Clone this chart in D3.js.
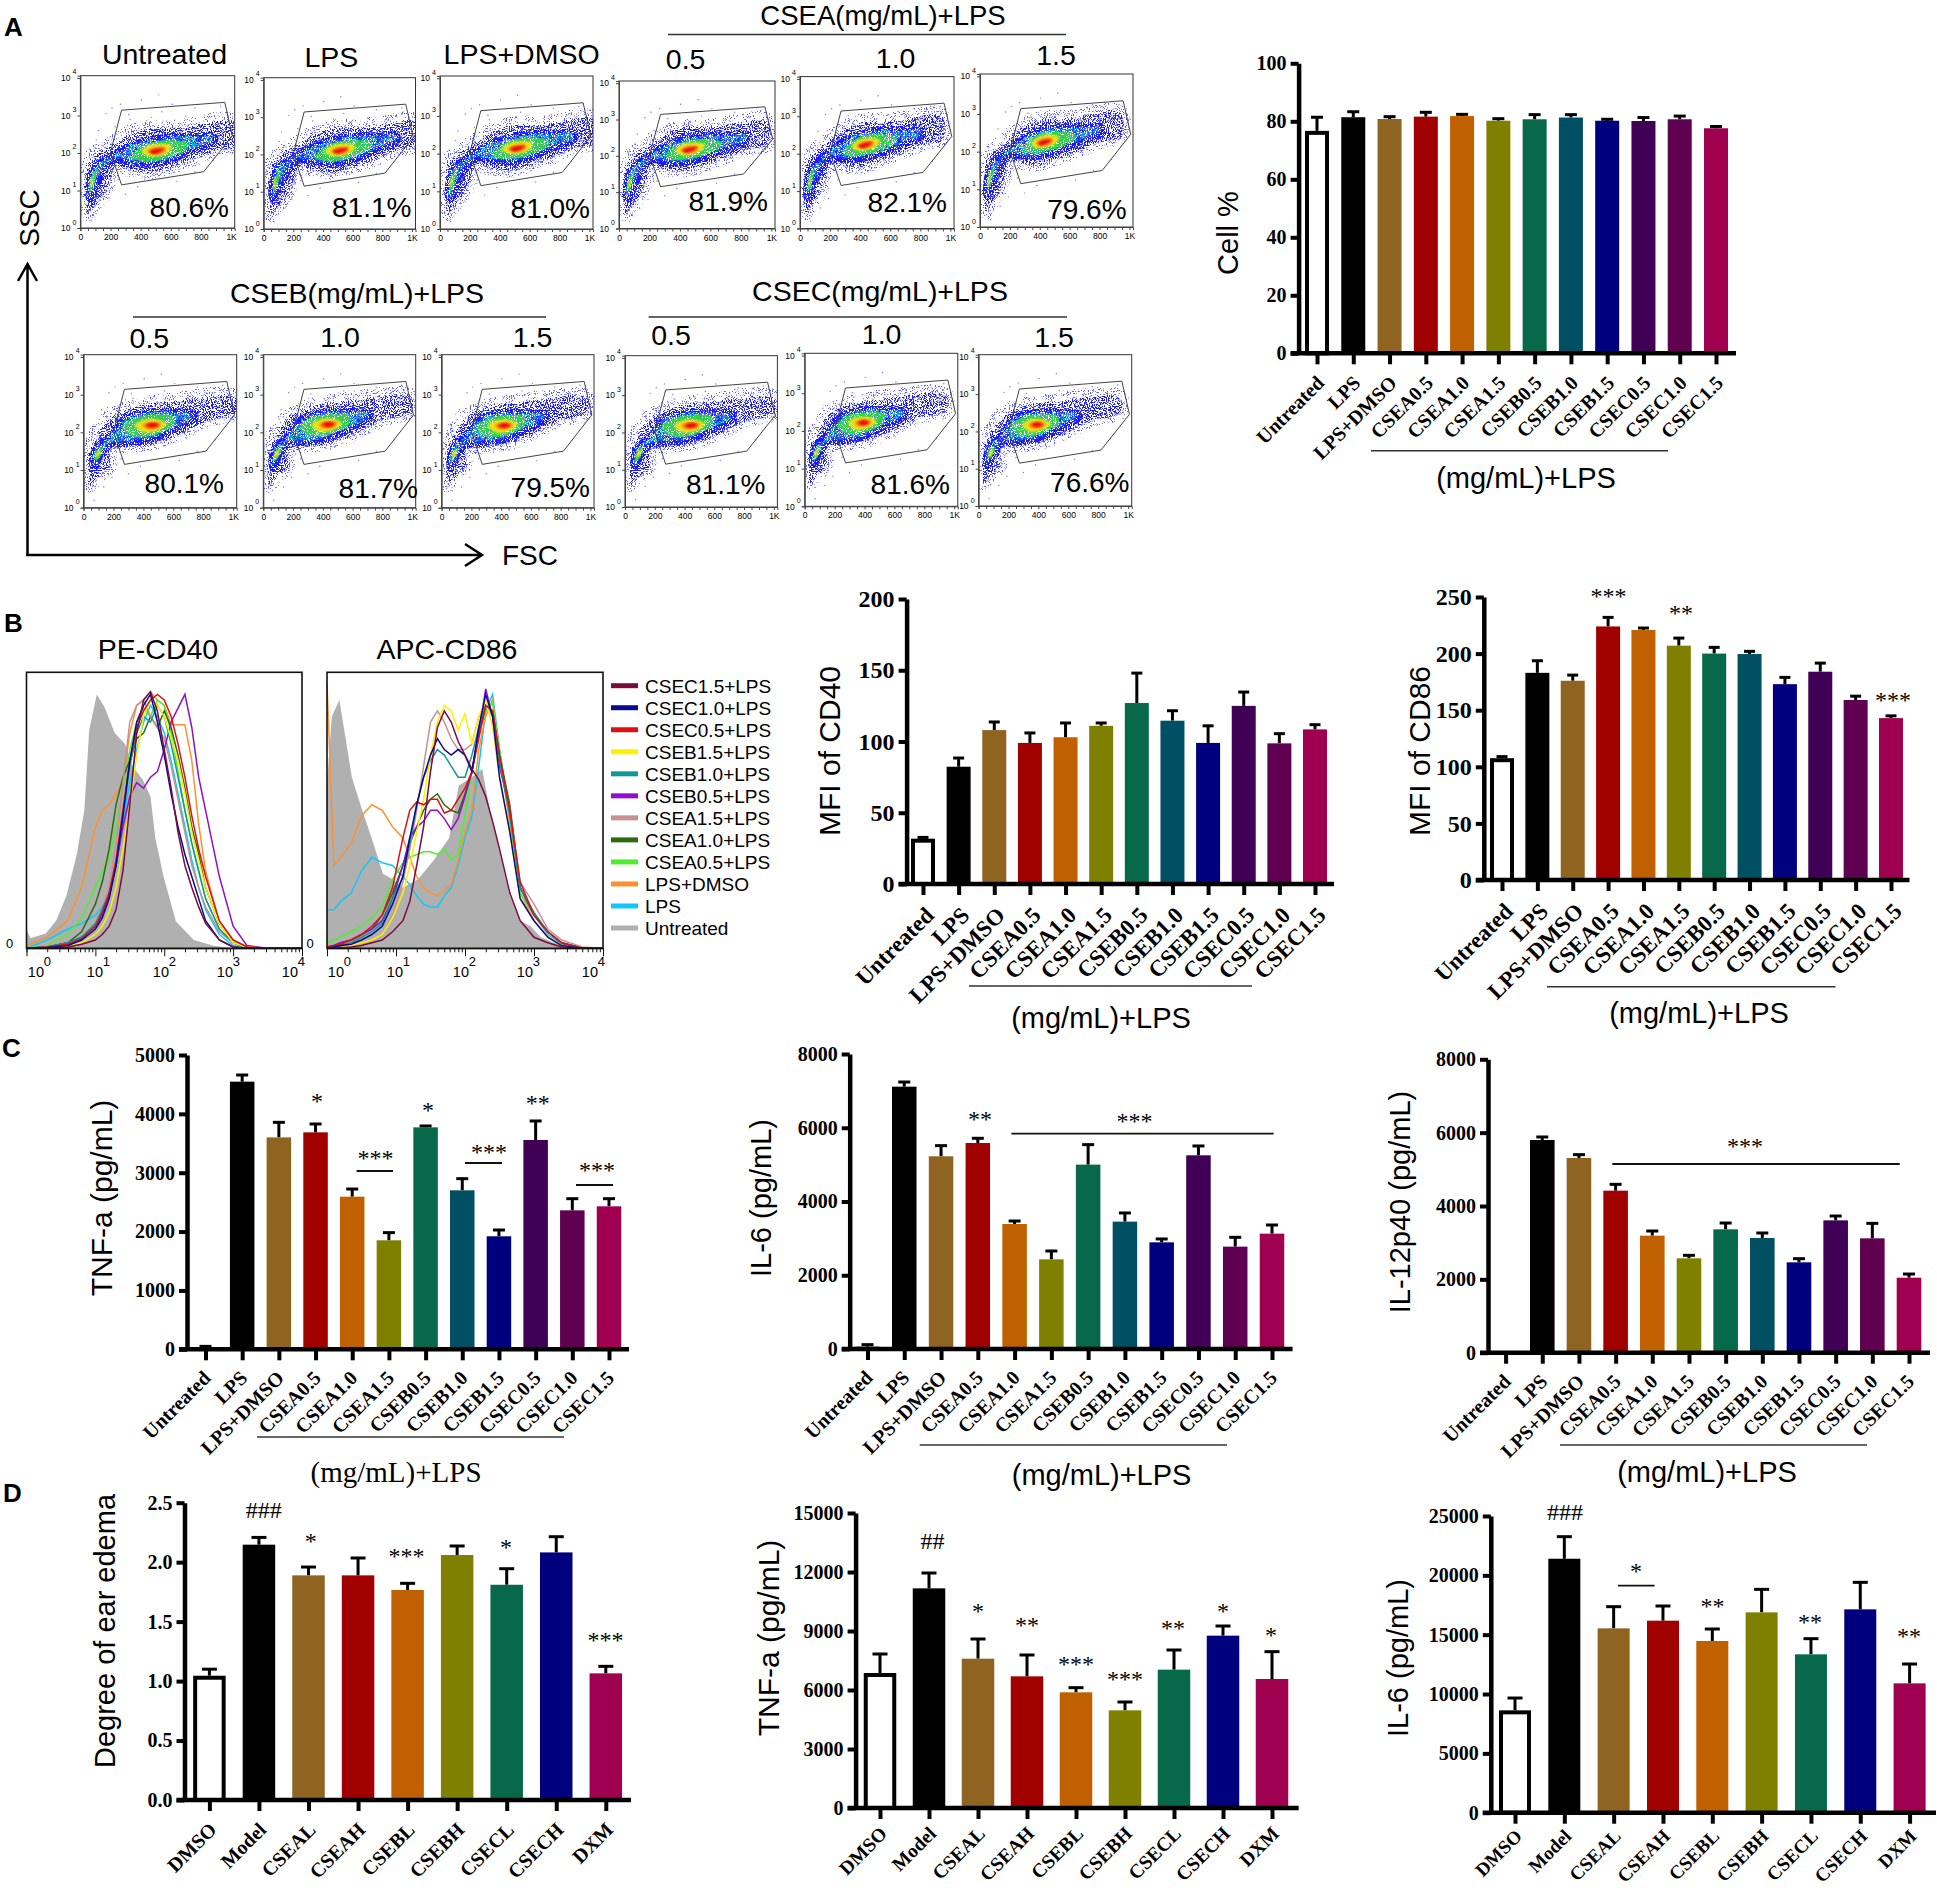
<!DOCTYPE html>
<html>
<head>
<meta charset="utf-8">
<style>
    body { margin: 0; background: #fff; }
    svg { display: block; }
    text { font-family: "Liberation Sans", Arial, sans-serif; fill: #000; }
    .serif text, text.serif { font-family: "Liberation Serif", "Times New Roman", serif; }
</style>
</head>
<body>
<div id="fig"></div>
<script src="https://d3js.org/d3.v7.min.js"></script>
<script>
// ---- bar chart data ----
var cellCats = ["Untreated","LPS","LPS+DMSO","CSEA0.5","CSEA1.0","CSEA1.5","CSEB0.5","CSEB1.0","CSEB1.5","CSEC0.5","CSEC1.0","CSEC1.5"]
var mouseCats = ["DMSO","Model","CSEAL","CSEAH","CSEBL","CSEBH","CSECL","CSECH","DXM"]
var cellColors = ["#fff","#000","#8f6420","#a00000","#c06000","#808000","#08694a","#004f63","#00007f","#400055","#600050","#a00050"]
var mouseColors = ["#fff","#000","#8f6420","#a00000","#c06000","#808000","#08694a","#00007f","#a00050"]

var viabilityVals = [76.7,81.4,80.8,81.6,81.8,80.2,80.7,81.3,80.2,80.1,80.7,77.6]
var viabilityTops = [81.4,83.3,81.6,83.1,82.4,80.9,82.3,82.3,80.7,81.3,81.8,78.2]
var viabilityTicks = [0,20,40,60,80,100]

var cd40Vals = [31.8,82.3,108,99,103,111,127,114.6,99,125,98.7,108.5]
var cd40Tops = [32.7,88.4,113.7,106,113,113,148,121.6,111,134.7,105.5,111.8]
var cd40Ticks = [0,50,100,150,200]

var cd86Vals = [107.6,183,176,224,220.8,207,200,199.6,173,184,159,143]
var cd86Tops = [109,193.7,181,232,222.6,213.7,205.5,202,179,191.6,162.4,145]
var cd86Ticks = [0,50,100,150,200,250]

var tnfCellVals = [0,4547,3600,3686,2593,1852,3771,2701,1920,3556,2361,2429]
var tnfCellTops = [50,4660,3856,3828,2723,1982,3794,2899,2027,3879,2559,2559]
var tnfCellTicks = [0,1000,2000,3000,4000,5000]

var il6CellVals = [63,7114,5226,5586,3390,2432,5000,3454,2893,5253,2776,3128]
var il6CellTops = [118,7240,5515,5714,3471,2658,5542,3689,2984,5506,3029,3363]
var il6CellTicks = [0,2000,4000,6000,8000]

var il12Vals = [0,5800,5309,4418,3191,2573,3364,3127,2464,3609,3118,2045]
var il12Tops = [0,5882,5400,4591,3318,2655,3536,3264,2564,3727,3527,2145]
var il12Ticks = [0,2000,4000,6000,8000]

var edemaVals = [1.045,2.147,1.889,1.889,1.766,2.06,1.81,2.082,1.065]
var edemaTops = [1.10,2.208,1.959,2.035,1.822,2.136,1.945,2.214,1.124]
var edemaTicks = [0,0.5,1,1.5,2,2.5]

var tnfMouseVals = [6864,11169,7593,6695,5881,4966,7034,8763,6559]
var tnfMouseTops = [7830,11949,8593,7780,6119,5390,8034,9254,7949]
var tnfMouseTicks = [0,3000,6000,9000,12000,15000]

var il6MouseVals = [8624,21400,15534,16180,14466,16882,13343,17135,10899]
var il6MouseTops = [9663,23258,17360,17416,15478,18820,14663,19410,12528]
var il6MouseTicks = [0,5000,10000,15000,20000,25000]

// ---- flow histograms (x = log10 intensity, y = % of max) ----
var histLeftX = [0,.3,.6,.8,1,1.1,1.2,1.3,1.4,1.5,1.6,1.7,1.8,1.9,2,2.1,2.2,2.3,2.4,2.5,2.6,2.8,3,3.2,3.5,4]
var histRightX = [0,.1,.2,.35,.5,.65,.8,.95,1.1,1.2,1.3,1.4,1.5,1.6,1.7,1.8,1.9,2,2.1,2.2,2.3,2.4,2.5,2.65,2.8,3,3.2,3.4,3.7,4]
var histNames = ["CSEC1.5+LPS","CSEC1.0+LPS","CSEC0.5+LPS","CSEB1.5+LPS","CSEB1.0+LPS","CSEB0.5+LPS","CSEA1.5+LPS","CSEA1.0+LPS","CSEA0.5+LPS","LPS+DMSO","LPS","Untreated"]
var histColors = ["#7c0a3c","#0a0a90","#e01010","#fff000","#109898","#9010c8","#c89090","#2f6a10","#50ee30","#ff9030","#10c8f8","#b0b0b0"]

var grayLeftX = [0,.06,.28,.43,.58,.73,.84,.91,1.02,1.13,1.28,1.43,1.54,1.69,1.8,1.87,1.99,2.17,2.43,2.73,3.02,4]
var grayLeftY = [6.6,3.6,5.4,10,19,34,50,79,92,87.5,78,74,66,61,55,40,26,9.7,3,.8,0,0]
var grayRightX = [0,.07,.18,.36,.51,.66,.81,.95,1.1,1.32,1.55,1.77,1.91,2.1,2.25,2.36,2.51,2.65,2.8,2.95,3.1,3.39,3.62,4]
var grayRightY = [60,84,90,62,50,39,27,25,22,25,32,40,59,62,65,50,34,19,10,8,4,1,0,0]

var histLeft = [
    [0,.2,.5,1.5,3,5,8,14,28,52,78,90,93,86,72,58,42,30,22,15,9,3,.5,0,0,0],
    [0,.3,1,3,7,11,18,30,48,68,82,88,92,82,70,56,44,34,26,18,10,3,.5,0,0,0],
    [0,.5,1.5,3.5,8,13,20,32,50,68,80,86,90,92,90,84,74,62,48,36,26,10,3,.5,0,0],
    [0,.3,1,2,5,8,13,22,36,52,70,84,90,88,84,76,68,56,42,32,22,9,2,.5,0,0],
    [0,.5,2,4,9,14,20,30,48,66,78,84,82,88,84,74,62,50,38,28,18,7,2,0,0,0],
    [0,.5,2,4,8,12,19,30,44,55,60,58,62,64,72,82,87,92,80,62,50,26,8,1,0,0],
    [0,.5,1.5,4,9,14,22,38,60,82,88,90,84,80,76,66,54,42,30,22,15,6,2,0,0,0],
    [0,.5,2,6,16,24,36,52,62,68,76,78,84,80,86,80,70,58,44,34,22,9,3,.5,0,0],
    [0,1,5,11,22,28,32,44,58,72,82,87,84,90,88,78,64,50,38,28,18,7,2,0,0,0],
    [1,4,10,22,44,50,52,56,60,78,88,90,93,90,88,81,81,81,68,45,28,9,2,.5,0,0],
    [0,3,7,9,12,15,20,30,46,60,72,82,88,84,78,68,56,44,32,22,14,5,1,0,0,0]
]
var histRight = [
    [0,0,.2,.5,1,2,3,6,10,17,30,44,64,80,86,82,75,70,65,61,55,46,36,20,10,4,2,.5,0,0],
    [0,.5,1,1.5,3,5,8,16,26,40,52,62,70,76,72,70,72,70,64,80,92,84,62,42,18,10,4,1,0,0],
    [.5,1,1.5,3,5,8,12,22,40,50,53,52,54,54,49,50,54,58,64,76,88,86,70,50,24,12,6,2,0,0],
    [0,0,.3,1,2,3,5,11,20,30,42,54,70,82,88,86,79,85,74,84,90,80,62,42,18,10,4,1,0,0],
    [0,.5,1,2,4,6,9,18,26,38,52,62,68,72,70,66,62,62,70,80,88,86,68,48,22,13,6,2,0,0],
    [.5,1,2,3,5,7,10,18,30,40,44,46,50,50,47,43,47,55,64,78,94,84,66,50,22,12,6,2,0,0],
    [0,0,.5,1,2,3,5,12,24,36,50,66,82,86,82,76,72,72,74,84,88,84,68,50,24,16,7,3,.5,0],
    [.5,1,2,3,5,7,12,20,30,38,44,50,54,56,52,50,49,56,64,78,88,86,70,52,22,12,6,2,0,0],
    [2,3,4,6,8,11,15,25,31,33,34,35,35,34,36,32,34,48,64,78,86,89,72,48,20,12,6,2,0,0],
    [96,30,33,38,48,52,50,44,40,33,26,22,20,19,21,23,32,42,50,72,84,90,70,45,20,10,4,1,0,0],
    [14,14,17,20,28,33,31,30,26,23,19,16,15,15,19,22,30,40,48,66,86,92,72,48,20,12,5,1.5,0,0]
]

// ---- FSC / SSC dot plots: gate and density outlines as [FSC, log10 SSC] ----
var gatePoly = [[273,3.14],[958,3.35],[1009,2.46],[818,1.5],[273,1.15],[200,2.02]]
var densityColors = ["#1a1aee","#16a8d8","#2fd24c","#ece21c","#ff8a10","#e81010"]

var bandsRowA = [
    [[[51,.34],[58,1.09],[51,1.62],[129,1.97],[218,2.19],[329,2.46],[484,2.64],[662,2.64],[840,2.77],[1024,2.81],[1024,2.15],[907,2.06],[751,1.8],[596,1.58],[462,1.44],[329,1.53],[240,1.62],[207,1.27],[151,.82],[84,.51]]],
    [[[64,.8],[66,1.25],[107,1.62],[196,1.86],[307,2.12],[462,2.33],[640,2.42],[796,2.42],[880,2.45],[880,2.3],[751,2.1],[596,1.84],[462,1.72],[329,1.78],[240,1.86],[173,1.66],[107,1.2]]],
    [[[340,1.88],[396,2.15],[507,2.31],[640,2.33],[718,2.24],[696,2.06],[596,1.88],[484,1.78],[384,1.8]],[[67,.96],[69,1.35],[118,1.58],[107,1.4],[84,1.09]]],
    [[[407,2.04],[451,2.19],[529,2.24],[607,2.19],[585,2.02],[507,1.91],[440,1.93]],[[67,1.09],[71,1.31],[80,1.35],[78,1.13]]],
    [[[444,2.04],[496,2.15],[562,2.15],[562,2.04],[496,1.95]]],
    [[[458,2.04],[507,2.11],[556,2.11],[529,2.02],[484,1.97]]]
]
var bandsRowB = [
    [[[50,.56],[59,1.53],[109,1.97],[208,2.42],[381,2.68],[629,2.81],[1024,2.9],[1024,2.5],[827,2.28],[629,1.88],[455,1.66],[282,1.58],[183,1.53],[183,1.09],[84,.73]]],
    [[[69,1.09],[84,1.53],[183,1.88],[282,2.33],[455,2.5],[620,2.5],[740,2.46],[720,2.33],[579,2.06],[455,1.84],[307,1.75],[183,1.71],[109,1.44]]],
    [[[257,2.15],[332,2.37],[455,2.46],[604,2.42],[604,2.19],[505,1.97],[406,1.88],[307,1.93]],[[69,1.22],[109,1.58],[134,1.58],[94,1.27]]],
    [[[342,2.19],[406,2.33],[505,2.33],[554,2.22],[505,2.06],[406,2]],[[74,1.35],[99,1.53],[114,1.49],[89,1.34]]],
    [[[391,2.19],[455,2.28],[520,2.24],[505,2.13],[431,2.08]]],
    [[[416,2.19],[465,2.26],[505,2.19],[455,2.12]]]
]
var strayDots = [[120,2.6],[170,3.05],[210,3.2],[265,3.3],[320,3.02],[405,3.42],[470,2.95],[540,3.1],[610,3.3],[700,2.98],[760,3.2],[150,2.2],[105,2.35],[230,2.7],[330,2.9],[860,3.05],[930,3.25],[60,2.1],[90,1.9],[300,.9],[380,1.1],[250,1.3],[640,1.25],[980,3.0],[520,3.55],[135,.55],[70,.2],[190,.8],[880,1.8],[760,1.5]]

var flowTitlesTop = ["Untreated","LPS","LPS+DMSO","0.5","1.0","1.5"]
var flowTitlesBottom = ["0.5","1.0","1.5","0.5","1.0","1.5"]
var flowPercentTop = ["80.6%","81.1%","81.0%","81.9%","82.1%","79.6%"]
var flowPercentBottom = ["80.1%","81.7%","79.5%","81.1%","81.6%","76.6%"]
var fscTicks = [0,200,400,600,800,1000]

var svg = d3.select("#fig").append("svg").attr("width", 1937).attr("height", 1888)
var defs = svg.append("defs")

// speckled and roughened fills for the dot-plot density bands
function grainFilter(id, slope, cut, scale) {
    var f = defs.append("filter").attr("id", id).attr("x", "-10%").attr("y", "-10%").attr("width", "120%").attr("height", "120%")
    f.append("feTurbulence").attr("type", "fractalNoise").attr("baseFrequency", 0.95).attr("numOctaves", 2).attr("seed", 4).attr("result", "n")
    f.append("feColorMatrix").attr("in", "n").attr("type", "matrix")
        .attr("values", "0 0 0 0 0 0 0 0 0 0 0 0 0 0 0 0 0 0 " + slope + " " + cut).attr("result", "m")
    f.append("feDisplacementMap").attr("in", "SourceGraphic").attr("in2", "n").attr("scale", scale).attr("result", "r")
    f.append("feComposite").attr("in", "r").attr("in2", "m").attr("operator", "in")
}
grainFilter("grainSparse", 14, -8.2, 10)
grainFilter("grainMid", 14, -6.7, 8)
grainFilter("grainDense", 14, -5.4, 5)
defs.append("filter").attr("id", "soft").append("feGaussianBlur").attr("stdDeviation", 0.9)

function label(x, y, str, size, opts) {
    opts = opts || {}
    var t = svg.append("text").attr("x", x).attr("y", y).text(str).attr("font-size", size)
        .attr("text-anchor", opts.anchor || "middle")
    if (opts.serif) t.classed("serif", true)
    if (opts.bold) t.attr("font-weight", "bold")
    if (opts.rotate) t.attr("transform", "rotate(-90 " + x + " " + y + ")")
    return t
}
function rule(x1, x2, y, w, color) {
    svg.append("line").attr("x1", x1).attr("x2", x2).attr("y1", y).attr("y2", y)
        .attr("stroke", color || "#222").attr("stroke-width", w || 1.5)
}

// ---- dot plot ----
var flowClip = 0
function flowPlot(p) {
    var x = d3.scaleLinear().domain([0, 1024]).range([p.left, p.right])
    var y = d3.scaleLinear().domain([0, 4.06]).range([p.bottom, p.top])
    var g = svg.append("g")
    flowClip++
    defs.append("clipPath").attr("id", "fc" + flowClip).append("rect")
        .attr("x", p.left).attr("y", p.top).attr("width", p.right - p.left).attr("height", p.bottom - p.top)
    var body = g.append("g").attr("clip-path", "url(#fc" + flowClip + ")")

    // panels differ mostly in where the main cluster sits, the low-FSC tail stays put
    var warp = function(d) {
        var k = Math.min(1, d[0] / 500)
        return [d[0] + p.dF * k, d[1] + p.dL * k]
    }
    var outline = d3.line().x(function(d) { return x(warp(d)[0]) }).y(function(d) { return y(warp(d)[1]) })
        .curve(d3.curveCatmullRomClosed)

    body.selectAll("circle").data(strayDots).enter().append("circle")
        .attr("cx", function(d) { return x(d[0]) }).attr("cy", function(d) { return y(d[1]) })
        .attr("r", 0.7).attr("fill", "#7777ff")

    // fringe around the blue band
    body.append("path").attr("d", outline(p.bands[0][0])).attr("fill", "#5a5aff")
        .attr("stroke", "#5a5aff").attr("stroke-width", 15).attr("filter", "url(#grainSparse)")
    p.bands.forEach(function(parts, i) {
        var f = i < 2 ? "grainMid" : i == 2 ? "grainDense" : "soft"
        parts.forEach(function(part) {
            // solid blue under the teal band, the picture gets denser toward the core
            if (i == 1) body.append("path").attr("d", outline(part)).attr("fill", densityColors[0])
                .attr("stroke", densityColors[0]).attr("stroke-width", 9).attr("filter", "url(#grainDense)")
            body.append("path").attr("d", outline(part)).attr("fill", densityColors[i]).attr("filter", "url(#" + f + ")")
        })
    })

    g.append("path").attr("d", d3.line().x(function(d) { return x(d[0]) }).y(function(d) { return y(d[1]) }).curve(d3.curveLinearClosed)(gatePoly))
        .attr("fill", "none").attr("stroke", "#444").attr("stroke-width", 1)

    g.append("rect").attr("x", p.left).attr("y", p.top).attr("width", p.right - p.left).attr("height", p.bottom - p.top)
        .attr("fill", "none").attr("stroke", "#333").attr("stroke-width", 1)

    var xAxis = d3.axisBottom(x).tickValues(d3.range(0, 1024, 50)).tickSize(3).tickPadding(3)
        .tickFormat(function(d) { return fscTicks.indexOf(d) < 0 ? "" : d == 1000 ? "1K" : d })
    var xg = g.append("g").attr("transform", "translate(0," + p.bottom + ")").call(xAxis)
    xg.selectAll("text").attr("font-size", 8.5).attr("fill", "#333")
    xg.selectAll("line,path").attr("stroke", "#444")
    var yAxis = d3.axisLeft(y).tickValues([0,1,2,3,4]).tickSize(3).tickPadding(2).tickFormat(function() { return "10" })
    var yg = g.append("g").attr("transform", "translate(" + p.left + ",0)").call(yAxis)
    yg.selectAll("text").attr("font-size", 8.5).attr("fill", "#333").attr("dx", -5)
    yg.selectAll(".tick").append("text").attr("x", -6).attr("y", -4).attr("text-anchor", "middle")
        .attr("font-size", 7).attr("fill", "#333").text(function(d) { return d })
    yg.selectAll("line,path").attr("stroke", "#444")

    label(p.pctX, p.pctY, p.pct, 28, {anchor: "end"})
}

var flowTop = [
    {left:80.4,right:234.7,top:75.7,bottom:228,dF:0,dL:0,pctX:229,pctY:217},
    {left:263.7,right:415.5,top:77.7,bottom:229,dF:10,dL:.05,pctX:411.4,pctY:217},
    {left:440,right:593,top:76,bottom:229,dF:12,dL:.09,pctX:590,pctY:218},
    {left:619,right:775,top:81,bottom:228.5,dF:-45,dL:.12,pctX:768,pctY:211},
    {left:800,right:954,top:76.6,bottom:228.5,dF:-75,dL:.18,pctX:947,pctY:212},
    {left:980,right:1133,top:74,bottom:227,dF:-78,dL:.2,pctX:1126.6,pctY:218.6}
]
flowTop.forEach(function(p, i) {
    p.bands = bandsRowA
    p.pct = flowPercentTop[i]
    flowPlot(p)
})
var flowBottom = [
    {left:83.6,right:236.7,top:354.7,bottom:507.7,dF:0,dL:0,pctX:224,pctY:493},
    {left:263.3,right:415.7,top:354.7,bottom:507.7,dF:-25,dL:.02,pctX:418,pctY:498},
    {left:441.6,right:594,top:354.7,bottom:507.7,dF:-43,dL:-.01,pctX:590,pctY:497},
    {left:625,right:777.4,top:355.7,bottom:507,dF:-18,dL:0,pctX:765.5,pctY:494},
    {left:804.7,right:957.8,top:353.3,bottom:506.3,dF:-74,dL:.03,pctX:950,pctY:494},
    {left:978.6,right:1131.7,top:354.7,bottom:506,dF:-74,dL:-.01,pctX:1129.5,pctY:491.7}
]
flowBottom.forEach(function(p, i) {
    p.bands = bandsRowB
    p.pct = flowPercentBottom[i]
    flowPlot(p)
})

// titles over the dot plots
var topTitleSpots = [[164.5,64],[331.4,67],[521.6,64],[685.6,69],[895.6,68],[1056,65]]
flowTitlesTop.forEach(function(s, i) { label(topTitleSpots[i][0], topTitleSpots[i][1], s, 28.5) })
var bottomTitleSpots = [[149.4,348],[340,347],[532.5,347],[671,345],[881.6,344],[1054,346.7]]
flowTitlesBottom.forEach(function(s, i) { label(bottomTitleSpots[i][0], bottomTitleSpots[i][1], s, 28.5) })
label(883, 25, "CSEA(mg/mL)+LPS", 27.5)
rule(668, 1066, 34.6, 1.5, "#333")
label(357, 303, "CSEB(mg/mL)+LPS", 28.5)
rule(133, 546, 317, 1.5, "#333")
label(880, 301, "CSEC(mg/mL)+LPS", 28.5)
rule(648.6, 1067, 317, 1.5, "#333")

// SSC / FSC arrows
var arrows = svg.append("g").attr("fill", "none").attr("stroke", "#000").attr("stroke-width", 2.5)
arrows.append("path").attr("d", "M27.5,555V265M18,281L27.5,264L37,281")
arrows.append("path").attr("d", "M26,555H481M465,544L482,555L465,566")
label(39, 218, "SSC", 28, {rotate: true})
label(530, 565, "FSC", 28)

// ---- histograms ----
function histPlot(h) {
    var x = d3.scaleLog().domain([1, 10000]).range([h.left, h.right])
    var y = d3.scaleLinear().domain([0, 100]).range([948.3, 672.3])
    var g = svg.append("g")
    var area = d3.area().x(function(d) { return x(Math.pow(10, d[0])) }).y0(y(0)).y1(function(d) { return y(d[1]) })
    g.append("path").attr("d", area(d3.zip(h.grayX, h.grayY))).attr("fill", "#b0b0b0")

    var line = d3.line().x(function(d) { return x(Math.pow(10, d[0])) }).y(function(d) { return y(d[1]) })
    // LPS first, CSEC1.5 last on top
    for (var i = h.series.length - 1; i >= 0; i--) {
        g.append("path").attr("d", line(d3.zip(h.xs, h.series[i]))).attr("fill", "none")
            .attr("stroke", histColors[i]).attr("stroke-width", 1.5)
    }
    g.append("rect").attr("x", h.left).attr("y", 672.3).attr("width", h.right - h.left).attr("height", 276)
        .attr("fill", "none").attr("stroke", "#111").attr("stroke-width", 1.6)

    var majors = [1, 10, 100, 1000, 10000]
    var axis = d3.axisBottom(x).tickValues(x.ticks()).tickSize(4).tickFormat("")
    var ag = g.append("g").attr("transform", "translate(0,948.3)").call(axis)
    ag.selectAll("line").attr("stroke", "#111").attr("y2", function(d) { return majors.indexOf(d) >= 0 ? 8 : 4 })
    ag.select(".domain").attr("stroke", "#111")

    // exponent labels sit a little off the decade ticks in the original
    h.labelRight.forEach(function(r, i) {
        label(r - 7, 977, "10", 14.5, {anchor: "end"})
        label(r, 966, i, 13, {anchor: "end"})
    })
    label(h.left - 17, 948, "0", 13)
}
histPlot({left:26.5,right:302,xs:histLeftX,series:histLeft,grayX:grayLeftX,grayY:grayLeftY,labelRight:[51,110,176,240,305]})
histPlot({left:327,right:603,xs:histRightX,series:histRight,grayX:grayRightX,grayY:grayRightY,labelRight:[351,410,476,540,605]})
label(158, 659, "PE-CD40", 28.5)
label(447, 659, "APC-CD86", 28.5)

var legendY = d3.scalePoint().domain(histNames).range([685.7, 928])
histNames.forEach(function(n, i) {
    svg.append("line").attr("x1", 611).attr("x2", 638).attr("y1", legendY(n)).attr("y2", legendY(n))
        .attr("stroke", histColors[i]).attr("stroke-width", 5)
    label(645, legendY(n) + 7, n, 19, {anchor: "start"})
})

// ---- bar charts ----
function barChart(c) {
    var x = d3.scalePoint().domain(c.cats).range([c.x0, c.x1])
    var y = d3.scaleLinear().domain([c.ticks[0], c.ticks[c.ticks.length - 1]]).range([c.base, c.top])
    var g = svg.append("g").classed("serif", true)
    var rows = c.cats.map(function(name, i) { return {name:name, v:c.vals[i], t:c.tops[i], color:c.colors[i]} })

    // error bars only go upward
    var err = g.append("g").attr("stroke", "#000").attr("stroke-width", 3)
    rows.filter(function(d) { return d.t > d.v }).forEach(function(d) {
        var cx = x(d.name)
        err.append("line").attr("x1", cx).attr("x2", cx).attr("y1", y(d.v)).attr("y2", y(d.t))
        err.append("line").attr("x1", cx - c.cap / 2).attr("x2", cx + c.cap / 2).attr("y1", y(d.t)).attr("y2", y(d.t))
    })
    var sw = 4
    g.append("g").selectAll("rect").data(rows.filter(function(d) { return d.v > 0 })).enter().append("rect")
        .attr("x", function(d) { return x(d.name) - c.w / 2 + (d.color == "#fff" ? sw / 2 : 0) })
        .attr("y", function(d) { return y(d.v) + (d.color == "#fff" ? sw / 2 : 0) })
        .attr("width", function(d) { return c.w - (d.color == "#fff" ? sw : 0) })
        .attr("height", function(d) { return Math.max(0, y(0) - y(d.v) - (d.color == "#fff" ? sw / 2 : 0)) })
        .attr("fill", function(d) { return d.color })
        .attr("stroke", function(d) { return d.color == "#fff" ? "#000" : "none" })
        .attr("stroke-width", sw)

    var yAxis = d3.axisLeft(y).tickValues(c.ticks).tickSize(8).tickPadding(4).tickSizeOuter(0)
    if (c.format) yAxis.tickFormat(d3.format(c.format))
    else yAxis.tickFormat(d3.format("d"))
    var yg = g.append("g").attr("transform", "translate(" + c.axisX + ",0)").call(yAxis)
    yg.select(".domain").attr("stroke", "#000").attr("stroke-width", 4.5)
    yg.selectAll("line").attr("stroke", "#000").attr("stroke-width", 4)
    yg.selectAll("text").attr("font-size", c.tickFs).attr("font-weight", "bold")

    var xAxis = d3.axisBottom(x).tickSize(11).tickPadding(0).tickSizeOuter(0)
    var xg = g.append("g").attr("transform", "translate(0," + c.base + ")").call(xAxis)
    xg.select(".domain").remove()
    xg.selectAll("line").attr("stroke", "#000").attr("stroke-width", 4)
    xg.selectAll("text").attr("font-size", c.catFs).attr("font-weight", "bold")
        .attr("text-anchor", "end").attr("x", 0).attr("y", 0).attr("dy", ".35em")
        .attr("transform", "translate(" + c.catDx + "," + c.catDy + ") rotate(-45)")
    g.append("line").attr("x1", c.axisX - 8).attr("x2", c.axisEnd).attr("y1", c.base).attr("y2", c.base)
        .attr("stroke", "#000").attr("stroke-width", 4.5)

    label(c.yLab[0], c.yLab[1], c.yTitle, c.yLab[2], {rotate: true})
    if (c.under) rule(c.under[0], c.under[1], c.under[2], 1.5, "#333")
    if (c.group) label(c.group[0], c.group[1], "(mg/mL)+LPS", 29, {serif: c.group[2]})
    ;(c.stars || []).forEach(function(s) {
        label(s[0], s[1] + (s[2][0] == "#" ? 8 : 11), s[2], 24, {serif: true}).attr("fill", "#333")
    })
    ;(c.brackets || []).forEach(function(b) { rule(b[0], b[1], b[2], 1.8, "#111") })
}

barChart({cats:cellCats,colors:cellColors,vals:viabilityVals,tops:viabilityTops,ticks:viabilityTicks,
    x0:1317,x1:1716,w:24,cap:12,top:63.3,base:353.3,axisX:1298.6,axisEnd:1736,tickFs:20,catFs:20,catDx:3,catDy:26,
    yTitle:"Cell %",yLab:[1238,233,29],under:[1371,1668,450.7],group:[1526,488]})
barChart({cats:cellCats,colors:cellColors,vals:cd40Vals,tops:cd40Tops,ticks:cd40Ticks,
    x0:923,x1:1315,w:24,cap:11,top:599,base:884,axisX:906.6,axisEnd:1334,tickFs:24,catFs:23,catDx:6,catDy:27,
    yTitle:"MFI of CD40",yLab:[840,751,30],under:[969,1252,986],group:[1101,1028]})
barChart({cats:cellCats,colors:cellColors,vals:cd86Vals,tops:cd86Tops,ticks:cd86Ticks,
    x0:1502,x1:1891,w:24,cap:11,top:597,base:880,axisX:1483.8,axisEnd:1909.5,tickFs:24,catFs:23,catDx:6,catDy:27,
    yTitle:"MFI of CD86",yLab:[1430,751,30],under:[1547,1835.5,986.7],group:[1699,1023],
    stars:[[1608.5,593,"***"],[1681,610,"**"],[1893,697,"***"]]})
barChart({cats:cellCats,colors:cellColors,vals:tnfCellVals,tops:tnfCellTops,ticks:tnfCellTicks,
    x0:205.5,x1:609,w:24.5,cap:12,top:1055,base:1349.3,axisX:187,axisEnd:629,tickFs:20,catFs:20,catDx:1,catDy:25,
    yTitle:"TNF-a (pg/mL)",yLab:[112,1198,30],under:[257,564,1437],group:[396,1482,true],
    stars:[[317,1098,"*"],[375.5,1155,"***"],[428,1107,"*"],[489,1149,"***"],[537.7,1100,"**"],[597,1167,"***"]],
    brackets:[[356.6,393,1171],[465,502,1163],[576,613,1185]]})
barChart({cats:cellCats,colors:cellColors,vals:il6CellVals,tops:il6CellTops,ticks:il6CellTicks,
    x0:867.5,x1:1272,w:24.5,cap:12,top:1054,base:1349,axisX:849.7,axisEnd:1292.6,tickFs:20,catFs:20,catDx:1,catDy:25,
    yTitle:"IL-6 (pg/mL)",yLab:[771,1198,29],under:[919.7,1227,1445],group:[1101.6,1485],
    stars:[[980,1116,"**"],[1134.4,1118,"***"]],brackets:[[1011.4,1273.6,1133.7]]})
barChart({cats:cellCats,colors:cellColors,vals:il12Vals,tops:il12Tops,ticks:il12Ticks,
    x0:1505.6,x1:1909,w:24.6,cap:12,top:1059.3,base:1352.7,axisX:1488,axisEnd:1930,tickFs:20,catFs:20,catDx:1,catDy:25,
    yTitle:"IL-12p40 (pg/mL)",yLab:[1410,1202,29],under:[1560,1867,1445],group:[1707,1482],
    stars:[[1745,1143,"***"]],brackets:[[1612.3,1899.8,1164]]})
barChart({cats:mouseCats,colors:mouseColors,vals:edemaVals,tops:edemaTops,ticks:edemaTicks,format:".1f",
    x0:209.4,x1:605.8,w:32.5,cap:15,top:1502.7,base:1800,axisX:184.5,axisEnd:631,tickFs:20,catFs:20,catDx:3,catDy:26,
    yTitle:"Degree of ear edema",yLab:[115,1631,29],
    stars:[[263.7,1510,"###"],[310.8,1538,"*"],[406.4,1553,"***"],[506,1544,"*"],[605.5,1637,"***"]]})
barChart({cats:mouseCats,colors:mouseColors,vals:tnfMouseVals,tops:tnfMouseTops,ticks:tnfMouseTicks,
    x0:880,x1:1272,w:32.5,cap:15,top:1513,base:1808,axisX:855.6,axisEnd:1298.7,tickFs:20,catFs:19.5,catDx:3,catDy:22,
    yTitle:"TNF-a (pg/mL)",yLab:[779,1638,30],
    stars:[[932.5,1541,"##"],[978,1608,"*"],[1027,1622,"**"],[1076,1661,"***"],[1125,1676,"***"],[1173,1625,"**"],[1223,1608,"*"],[1271,1632,"*"]]})
barChart({cats:mouseCats,colors:mouseColors,vals:il6MouseVals,tops:il6MouseTops,ticks:il6MouseTicks,
    x0:1515,x1:1909.6,w:32,cap:15,top:1516,base:1812.7,axisX:1490.8,axisEnd:1936,tickFs:20,catFs:19,catDx:3,catDy:20,
    yTitle:"IL-6 (pg/mL)",yLab:[1408,1658,29],
    stars:[[1565,1512,"###"],[1636,1568,"*"],[1712.5,1603,"**"],[1810,1619,"**"],[1909,1633,"**"]],brackets:[[1618,1654.6,1585.7]]})

// panel letters
label(4, 36, "A", 26, {anchor:"start", bold:true})
label(4, 632, "B", 26, {anchor:"start", bold:true})
label(2, 1057, "C", 26, {anchor:"start", bold:true})
label(3, 1502, "D", 26, {anchor:"start", bold:true})
</script>
</body>
</html>
